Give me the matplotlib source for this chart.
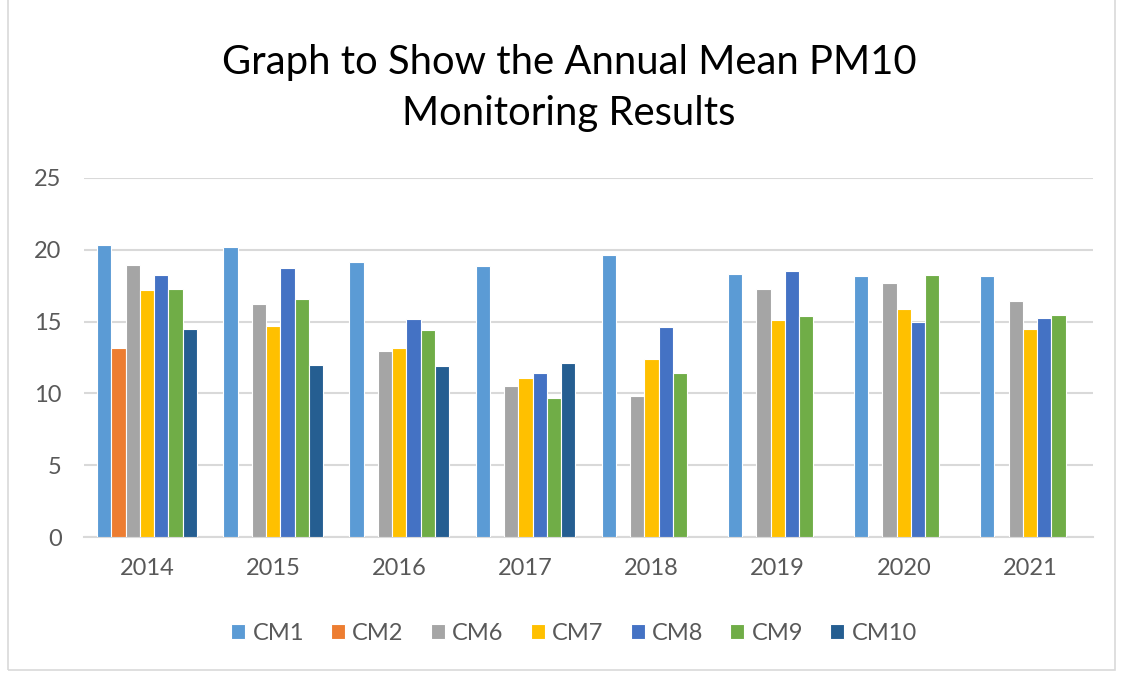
import matplotlib.pyplot as plt
import matplotlib.patches as mpatches
import numpy as np

nan = np.nan
years = ["2014", "2015", "2016", "2017", "2018", "2019", "2020", "2021"]
sites = ["CM1", "CM2", "CM6", "CM7", "CM8", "CM9", "CM10"]
cm1 = [20.3, 20.2, 19.15, 18.85, 19.65, 18.35, 18.2, 18.15]
cm2 = [13.15, nan, nan, nan, nan, nan, nan, nan]
cm6 = [18.95, 16.25, 12.95, 10.55, 9.8, 17.3, 17.7, 16.45]
cm7 = [17.2, 14.7, 13.15, 11.1, 12.4, 15.1, 15.85, 14.5]
cm8 = [18.25, 18.75, 15.2, 11.4, 14.6, 18.55, 14.95, 15.25]
cm9 = [17.3, 16.6, 14.4, 9.7, 11.4, 15.4, 18.25, 15.45]
cm10 = [14.5, 12.0, 11.9, 12.1, nan, nan, nan, nan]
colors = ["#5b9bd5", "#ed7d31", "#a5a5a5", "#ffc000", "#4472c4", "#70ad47", "#255e91"]

plt.rcParams['font.family'] = ['Lato', 'DejaVu Sans']

fig = plt.figure(figsize=(11.21, 6.75), dpi=100)
ax = fig.add_axes([0.0749, 0.2044, 0.9001, 0.5319])

series = [cm1, cm2, cm6, cm7, cm8, cm9, cm10]
x = np.arange(len(years))
w = 0.113
for i, (name, vals) in enumerate(zip(sites, series)):
    off = (i - 3) * w
    ax.bar(x + off, vals, width=w, color=colors[i], edgecolor="white",
           linewidth=0.8, label=name, zorder=3)

ax.set_xlim(-0.5, len(years) - 0.5)
ax.set_ylim(0, 25)
ax.set_yticks([0, 5, 10, 15, 20, 25])
ax.set_xticks(x)
ax.set_xticklabels(years)
ax.grid(axis="y", color="#d9d9d9", linewidth=1.5, zorder=0)
for s in ["top", "right", "left"]:
    ax.spines[s].set_visible(False)
ax.spines["bottom"].set_color("#d9d9d9")
ax.spines["bottom"].set_linewidth(1.5)
ax.tick_params(length=0, labelsize=17, labelcolor="#595959")
ax.tick_params(axis="x", pad=15)
ax.tick_params(axis="y", pad=16)

fig.text(0.508, 0.908, "Graph to Show the Annual Mean PM10", ha="center", va="center",
         fontsize=28.8, color="black")
fig.text(0.507, 0.832, "Monitoring Results", ha="center", va="center",
         fontsize=28.8, color="black")

leg = fig.legend(loc="center", bbox_to_anchor=(0.512, 0.062), ncol=7, frameon=False,
                 fontsize=17, handlelength=0.6, handleheight=0.6, handletextpad=0.3,
                 columnspacing=1.15)
for t in leg.get_texts():
    t.set_color("#595959")

border = mpatches.Rectangle((0.007, 0.007), 0.988, 1.1, transform=fig.transFigure,
                            fill=False, edgecolor="#d9d9d9", linewidth=1.2)
fig.patches.append(border)

fig.savefig("out.png", dpi=100)
